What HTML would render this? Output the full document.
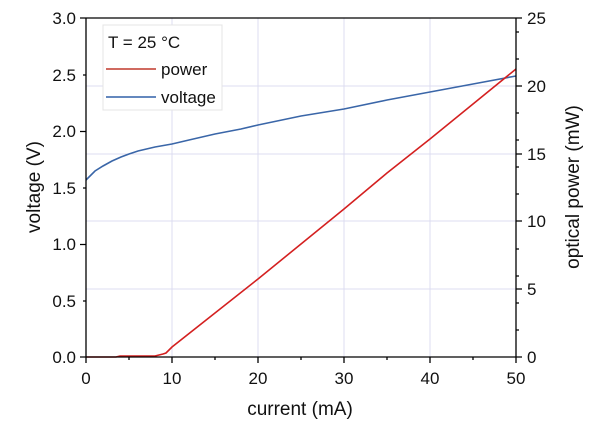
<!DOCTYPE html>
<html><head><style>body{margin:0;background:#fff}svg{display:block}text{font-family:"Liberation Sans",sans-serif;fill:#111}</style></head><body>
<svg width="600" height="424" xmlns="http://www.w3.org/2000/svg">
<g stroke="#dcdcf0" stroke-width="1">
<line x1="172" y1="18" x2="172" y2="357"/><line x1="258" y1="18" x2="258" y2="357"/><line x1="344" y1="18" x2="344" y2="357"/><line x1="430" y1="18" x2="430" y2="357"/>
<line x1="86" y1="289" x2="516" y2="289"/><line x1="86" y1="221" x2="516" y2="221"/><line x1="86" y1="154" x2="516" y2="154"/><line x1="86" y1="86" x2="516" y2="86"/>
</g>
<rect x="103" y="25" width="119" height="85" fill="#fff" stroke="#e4e4e4"/>
<text x="108" y="48" font-size="17">T = 25 °C</text>
<line x1="106" y1="69" x2="156" y2="69" stroke="#c0392b" stroke-width="1.5"/>
<text x="161" y="75" font-size="17">power</text>
<line x1="106" y1="97" x2="156" y2="97" stroke="#3060a8" stroke-width="1.5"/>
<text x="161" y="103" font-size="17">voltage</text>
<polyline fill="none" stroke="#3a66a8" stroke-width="1.6" points="86,180 95,171 103,166 112,161 121,157 129,154 138,151 155,147 172,144 189,140 215,134 241,129 258,125 301,116 344,109 387,100 430,92 473,84 516,76"/>
<polyline fill="none" stroke="#d42020" stroke-width="1.6" points="86,357 116,357 120,356 155,356 163,354 166,353 172,347 215,313 258,279 301,244 344,209 387,173 430,139 473,104 516,69"/>
<g stroke="#000" stroke-width="1.3" fill="none">
<line x1="86" y1="18" x2="516" y2="18"/><line x1="86" y1="18" x2="86" y2="357"/><line x1="86" y1="357" x2="516" y2="357"/><line x1="516" y1="18" x2="516" y2="357"/>
<path d="M86 357h-6M86 301h-3M86 244.5h-6M86 188h-3M86 131.5h-6M86 75h-3M86 18h-6"/>
<path d="M86 357v6M129 357v3M172 357v6M215 357v3M258 357v6M301 357v3M344 357v6M387 357v3M430 357v6M473 357v3M516 357v6"/>
<path d="M516 357h6M516 330h3M516 303h3M516 276h3M516 249h3M516 221h6M516 194h3M516 167h3M516 140h3M516 113h3M516 86h6M516 59h3M516 32h3M516 18h6M516 289h6M516 154h6"/>
</g>
<g font-size="17" text-anchor="end">
<text x="76" y="363">0.0</text><text x="76" y="307">0.5</text><text x="76" y="250">1.0</text><text x="76" y="194">1.5</text><text x="76" y="137">2.0</text><text x="76" y="81">2.5</text><text x="76" y="24">3.0</text>
</g>
<g font-size="17">
<text x="527" y="363">0</text><text x="527" y="295">5</text><text x="527" y="227">10</text><text x="527" y="160">15</text><text x="527" y="92">20</text><text x="527" y="24">25</text>
</g>
<g font-size="17" text-anchor="middle">
<text x="86" y="384">0</text><text x="172" y="384">10</text><text x="258" y="384">20</text><text x="344" y="384">30</text><text x="430" y="384">40</text><text x="516" y="384">50</text>
<text x="300" y="415" font-size="19">current (mA)</text>
<text transform="translate(40,187) rotate(-90)" font-size="19">voltage (V)</text>
<text transform="translate(579,187) rotate(-90)" font-size="19">optical power (mW)</text>
</g>
</svg></body></html>
